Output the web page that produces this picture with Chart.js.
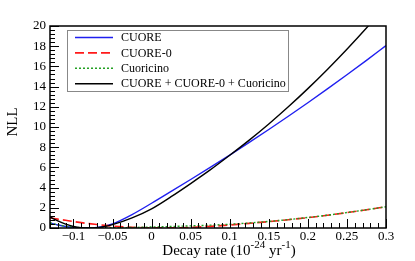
<!DOCTYPE html>
<html>
<head>
<meta charset="utf-8">
<script src="https://cdn.jsdelivr.net/npm/chart.js@4/dist/chart.umd.min.js"></script>
<style>
  html, body { margin: 0; padding: 0; background: #fff; }
  #wrap { width: 415px; height: 261px; }
</style>
</head>
<body>
<div id="wrap"><canvas id="nllChart" width="415" height="261"></canvas></div>
<script>
// Decay rate (1e-24 / yr) sample points
const rates = [-0.13, -0.12, -0.11, -0.1, -0.09, -0.08, -0.07, -0.06, -0.05, -0.025, 0,
  0.025, 0.05, 0.075, 0.1, 0.125, 0.15, 0.175, 0.2, 0.225, 0.25, 0.275, 0.3];

// NLL curves
const cuore = [0.5, 0.3, 0.15, 0.06, 0.01, 0.0, 0.05, 0.18, 0.4, 1.33, 2.45,
  3.62, 4.8, 6.0, 7.22, 8.47, 9.75, 11.06, 12.4, 13.77, 15.17, 16.6, 18.06];
const cuore0 = [1.0, 0.88, 0.76, 0.64, 0.53, 0.43, 0.34, 0.26, 0.19, 0.07, 0.01,
  0.01, 0.06, 0.16, 0.3, 0.46, 0.63, 0.82, 1.03, 1.26, 1.52, 1.8, 2.1];
const cuoricino = [0.5, 0.32, 0.18, 0.08, 0.03, 0.01, 0.0, 0.01, 0.02, 0.05, 0.1,
  0.15, 0.21, 0.28, 0.37, 0.5, 0.65, 0.83, 1.04, 1.27, 1.53, 1.81, 2.1];
const combined = [1.1, 0.7, 0.38, 0.15, 0.03, 0.0, 0.04, 0.15, 0.33, 1.0, 1.9,
  3.1, 4.4, 5.75, 7.2, 8.7, 10.3, 12.0, 13.8, 15.7, 17.7, 19.8, 22.0];

const xTicks = [-0.1, -0.05, 0, 0.05, 0.1, 0.15, 0.2, 0.25, 0.3];
const yTicks = [0, 2, 4, 6, 8, 10, 12, 14, 16, 18, 20];

const FONT = '"Liberation Serif", "Times New Roman", serif';

function toPoints(values) {
    return rates.map((r, i) => ({ x: r, y: values[i] }));
}

function fmtTick(v) {
    const s = String(Math.round(v * 1000) / 1000);
    return s.replace('-', '\u2212');
}

// ROOT-like frame, inner ticks, legend and axis titles
const rootStyle = {
    id: 'rootStyle',
    afterDraw(chart) {
        const ctx = chart.ctx;
        const a = chart.chartArea;
        const xs = chart.scales.x;
        const ys = chart.scales.y;
        ctx.save();

        // ticks
        ctx.strokeStyle = '#000';
        ctx.lineWidth = 1;
        ctx.beginPath();
        for (let i = -13; i <= 30; i++) {
            const px = Math.round(xs.getPixelForValue(i / 100)) + 0.5;
            const len = (i % 5 === 0) ? 9 : 5;
            ctx.moveTo(px, a.bottom);
            ctx.lineTo(px, a.bottom - len);
        }
        for (let i = 0; i <= 50; i++) {
            const py = Math.round(ys.getPixelForValue(i * 0.4)) + 0.5;
            const len = (i % 5 === 0) ? 9 : 5;
            ctx.moveTo(a.left, py);
            ctx.lineTo(a.left + len, py);
        }
        ctx.stroke();

        // frame
        ctx.lineWidth = 1.5;
        ctx.strokeRect(a.left, a.top, a.right - a.left, a.bottom - a.top);

        // legend
        const lx = 67, ly = 30, lw = 221, lh = 61;
        ctx.fillStyle = '#fff';
        ctx.fillRect(lx, ly, lw, lh);
        ctx.strokeStyle = '#888';
        ctx.lineWidth = 1;
        ctx.strokeRect(lx + 0.5, ly + 0.5, lw, lh);
        ctx.font = '12px ' + FONT;
        ctx.textBaseline = 'middle';
        ctx.textAlign = 'left';
        chart.data.datasets.forEach((ds, i) => {
            const y = 37.5 + i * 15.4;
            ctx.strokeStyle = ds.borderColor;
            ctx.lineWidth = ds.borderWidth;
            ctx.setLineDash(ds.borderDash || []);
            ctx.beginPath();
            ctx.moveTo(75, y);
            ctx.lineTo(113, y);
            ctx.stroke();
            ctx.setLineDash([]);
            ctx.fillStyle = '#000';
            ctx.fillText(ds.label, 121, y + 0.5);
        });

        // y title
        ctx.fillStyle = '#000';
        ctx.font = '15px ' + FONT;
        ctx.save();
        ctx.translate(13, 122);
        ctx.rotate(-Math.PI / 2);
        ctx.textAlign = 'center';
        ctx.textBaseline = 'middle';
        ctx.fillText('NLL', 0, 0);
        ctx.restore();

        // x title with superscripts
        const parts = [
            { t: 'Decay rate (10', sup: false },
            { t: '-24', sup: true },
            { t: ' yr', sup: false },
            { t: '-1', sup: true },
            { t: ')', sup: false }
        ];
        const widthOf = p => {
            ctx.font = (p.sup ? '11px ' : '15px ') + FONT;
            return ctx.measureText(p.t).width;
        };
        const total = parts.reduce((s, p) => s + widthOf(p), 0);
        let cx = 229 - total / 2;
        ctx.textAlign = 'left';
        ctx.textBaseline = 'alphabetic';
        parts.forEach(p => {
            const w = widthOf(p);
            ctx.fillText(p.t, cx, p.sup ? 248 : 255);
            cx += w;
        });

        ctx.restore();
    }
};

const ctx = document.getElementById('nllChart').getContext('2d');

new Chart(ctx, {
    type: 'line',
    data: {
        datasets: [{
            label: 'CUORE',
            data: toPoints(cuore),
            borderColor: '#1f1ff0',
            borderWidth: 1.4,
            order: 3
        }, {
            label: 'CUORE-0',
            data: toPoints(cuore0),
            borderColor: '#ff1a1a',
            borderWidth: 1.6,
            borderDash: [9, 4],
            order: 2
        }, {
            label: 'Cuoricino',
            data: toPoints(cuoricino),
            borderColor: '#22a022',
            borderWidth: 1.4,
            borderDash: [2, 2],
            order: 1
        }, {
            label: 'CUORE + CUORE-0 + Cuoricino',
            data: toPoints(combined),
            borderColor: '#000000',
            borderWidth: 1.4,
            order: 0
        }]
    },
    options: {
        responsive: false,
        animation: false,
        devicePixelRatio: 1,
        layout: { padding: { top: 26, right: 29, left: 0, bottom: 0 } },
        elements: {
            point: { radius: 0 },
            line: { cubicInterpolationMode: 'monotone', fill: false }
        },
        plugins: {
            legend: { display: false },
            tooltip: { enabled: false }
        },
        scales: {
            x: {
                type: 'linear',
                min: -0.13,
                max: 0.3,
                grid: { display: false, drawTicks: false },
                border: { display: false },
                afterFit(scale) { scale.height = 33; },
                afterBuildTicks(scale) {
                    scale.ticks = xTicks.map(v => ({ value: v }));
                },
                ticks: {
                    padding: 1,
                    color: '#000',
                    maxRotation: 0,
                    autoSkip: false,
                    font: { family: FONT, size: 13 },
                    callback: v => fmtTick(v)
                }
            },
            y: {
                type: 'linear',
                min: 0,
                max: 20,
                grid: { display: false, drawTicks: false },
                border: { display: false },
                afterFit(scale) { scale.width = 50; },
                afterBuildTicks(scale) {
                    scale.ticks = yTicks.map(v => ({ value: v }));
                },
                ticks: {
                    padding: 4,
                    color: '#000',
                    autoSkip: false,
                    font: { family: FONT, size: 13 },
                    callback: v => fmtTick(v)
                }
            }
        }
    },
    plugins: [rootStyle]
});
</script>
</body>
</html>
